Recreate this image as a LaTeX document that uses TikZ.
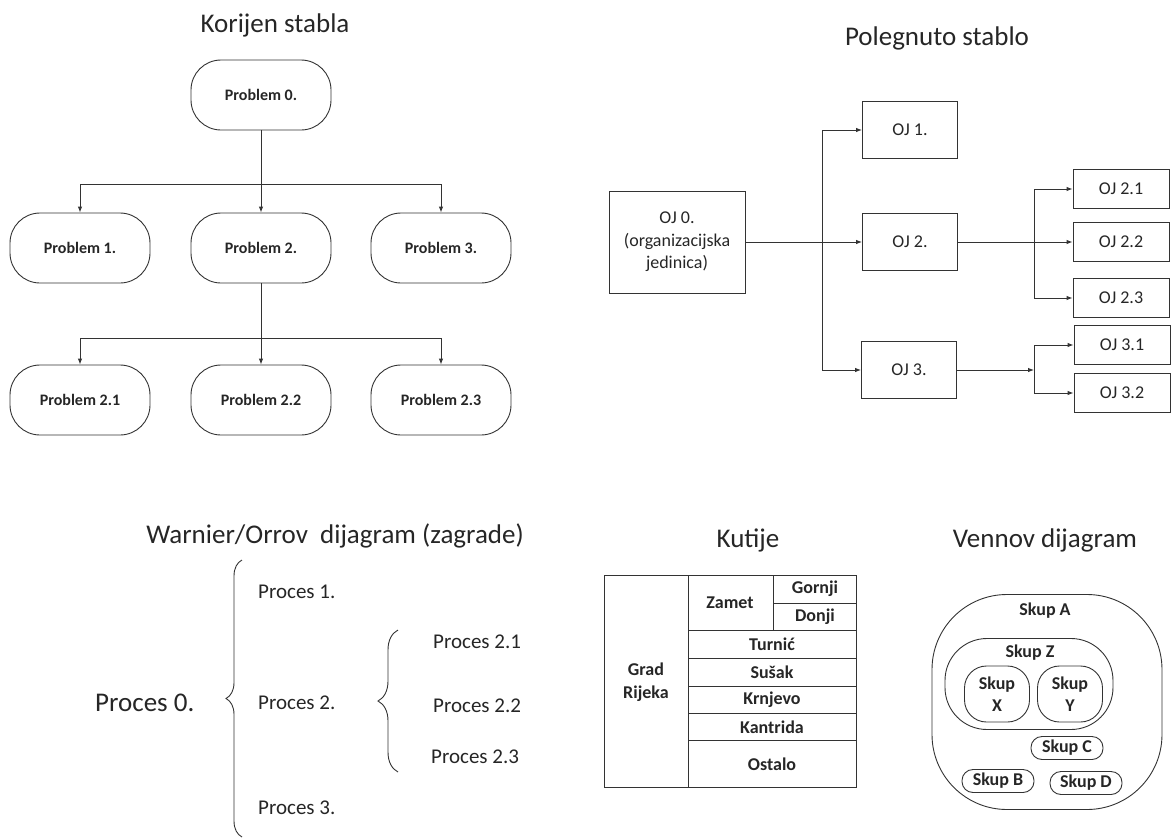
\documentclass[tikz,border=0pt]{standalone}
\usepackage{fontspec}
\setmainfont{Carlito}
\usetikzlibrary{arrows.meta,decorations.pathreplacing}

\newcommand{\naslovfont}{\fontsize{27}{32}\selectfont}
\newcommand{\probfont}{\fontsize{16}{19}\selectfont\bfseries}
\newcommand{\ojfont}{\fontsize{18}{22.5}\selectfont}
\newcommand{\procfont}{\fontsize{21}{25}\selectfont}
\newcommand{\kutfont}{\fontsize{18}{22.5}\selectfont\bfseries}

\tikzset{
  linija/.style={draw=black!80, line width=0.9pt},
  strelica/.style={linija, -{Latex[length=6pt,width=4.5pt]}},
  naslov/.style={font=\naslovfont},
  problem/.style={linija, rounded corners=30pt, minimum width=140pt, minimum height=70pt, font=\probfont},
  oj/.style={linija, minimum width=95pt, minimum height=57pt, font=\ojfont},
  ojmali/.style={linija, minimum width=96pt, minimum height=39pt, font=\ojfont},
  proces/.style={font=\procfont, anchor=west, inner xsep=0pt},
  zagrada/.style={linija, decorate, decoration={brace, amplitude=#1}},
  kutija/.style={font=\kutfont, align=center},
  skup/.style={linija, font=\kutfont, align=center}
}

\begin{document}
\begin{tikzpicture}[x=1pt, y=-1pt, color=black!85]
    \useasboundingbox (0,0) rectangle (1171,839);

    % Korijen stabla
    \node[naslov] (nasKor) at (275,25) {Korijen stabla};
    \node[problem] (p0) at (261,95) {Problem 0.};
    \node[problem] (p1) at (80,248) {Problem 1.};
    \node[problem] (p2) at (261,248) {Problem 2.};
    \node[problem] (p3) at (441,248) {Problem 3.};
    \node[problem] (p21) at (80,400) {Problem 2.1};
    \node[problem] (p22) at (261,400) {Problem 2.2};
    \node[problem] (p23) at (441,400) {Problem 2.3};
    \coordinate (g1) at (261,184);
    \coordinate (g2) at (261,338);
    \draw[linija] (p0.south) -- (g1);
    \draw[strelica] (g1) -- (p2.north);
    \draw[strelica] (g1) -| (p1.north);
    \draw[strelica] (g1) -| (p3.north);
    \draw[linija] (p2.south) -- (g2);
    \draw[strelica] (g2) -- (p22.north);
    \draw[strelica] (g2) -| (p21.north);
    \draw[strelica] (g2) -| (p23.north);

    % Polegnuto stablo
    \node[naslov] (nasPol) at (937,38) {Polegnuto stablo};
    \node[oj, minimum width=136pt, minimum height=102pt, align=center] (oj0) at (677,242) {OJ 0.\\(organizacijska\\jedinica)};
    \node[oj] (oj1) at (910,130) {OJ 1.};
    \node[oj] (oj2) at (910,242) {OJ 2.};
    \node[oj] (oj3) at (909,370) {OJ 3.};
    \node[ojmali] (oj21) at (1121,189) {OJ 2.1};
    \node[ojmali] (oj22) at (1121,242) {OJ 2.2};
    \node[ojmali] (oj23) at (1121,298) {OJ 2.3};
    \node[ojmali] (oj31) at (1122,345) {OJ 3.1};
    \node[ojmali] (oj32) at (1122,393) {OJ 3.2};
    \coordinate (r0) at (822,242);
    \coordinate (r2) at (1034,242);
    \coordinate (r3) at (1034,370);
    \draw[strelica] (oj0.east) -- (oj2.west);
    \draw[strelica] (r0) |- (oj1.west);
    \draw[strelica] (r0) |- (oj3.west);
    \draw[strelica] (oj2.east) -- (oj22.west);
    \draw[strelica] (r2) |- (oj21.west);
    \draw[strelica] (r2) |- (oj23.west);
    \draw[strelica] (oj3.east) -- (r3);
    \draw[strelica] (r3) |- (oj31.west);
    \draw[strelica] (r3) |- (oj32.west);

    % Warnier/Orrov dijagram
    \node[naslov] (nasWar) at (335,536) {Warnier/Orrov\ \ dijagram (zagrade)};
    \node[proces, font=\naslovfont] (pr0) at (95,703) {Proces 0.};
    \node[proces] (pr1) at (258,592) {Proces 1.};
    \node[proces] (pr2) at (258,703) {Proces 2.};
    \node[proces] (pr3) at (258,808) {Proces 3.};
    \node[proces] (pr21) at (433,642) {Proces 2.1};
    \node[proces] (pr22) at (433,706) {Proces 2.2};
    \node[proces] (pr23) at (431,757) {Proces 2.3};
    \draw[zagrada=16pt] (242,837) -- (242,560);
    \draw[zagrada=20pt] (398,772) -- (398,630);

    % Kutije
    \node[naslov] (nasKut) at (748,540) {Kutije};
    \draw[linija] (604,575) rectangle (856,787);
    \draw[linija] (688,575) -- (688,787);
    \draw[linija] (773,575) -- (773,630);
    \draw[linija] (773,603) -- (856,603);
    \foreach \y in {630,658,686,713,740}
        \draw[linija] (688,\y) -- (856,\y);
    \node[kutija] (kGrad) at (646,682) {Grad\\Rijeka};
    \node[kutija] (kZamet) at (730,603) {Zamet};
    \node[kutija] (kGornji) at (815,589) {Gornji};
    \node[kutija] (kDonji) at (815,617) {Donji};
    \node[kutija] (kTurnic) at (772,644) {Turnić};
    \node[kutija] (kSusak) at (772,672) {Sušak};
    \node[kutija] (kKrnjevo) at (772,700) {Krnjevo};
    \node[kutija] (kKantrida) at (772,727) {Kantrida};
    \node[kutija] (kOstalo) at (772,764) {Ostalo};

    % Vennov dijagram
    \node[naslov] (nasVen) at (1045,540) {Vennov dijagram};
    \node[skup, minimum width=230pt, minimum height=215pt, rounded corners=75pt] (skupA) at (1047,702) {};
    \node[kutija] (tA) at (1045,611) {Skup A};
    \node[skup, minimum width=168pt, minimum height=91pt, rounded corners=42pt] (skupZ) at (1029,684) {};
    \node[kutija] (tZ) at (1030,653) {Skup Z};
    \node[skup, minimum width=65pt, minimum height=56pt, rounded corners=22pt] (skupX) at (997,694) {Skup\\X};
    \node[skup, minimum width=65pt, minimum height=56pt, rounded corners=22pt] (skupY) at (1070,694) {Skup\\Y};
    \node[skup, minimum width=72pt, minimum height=23pt, rounded corners=11pt] (skupC) at (1067,748) {Skup C};
    \node[skup, minimum width=72pt, minimum height=23pt, rounded corners=11pt] (skupB) at (998,781) {Skup B};
    \node[skup, minimum width=72pt, minimum height=23pt, rounded corners=11pt] (skupD) at (1086,783) {Skup D};
\end{tikzpicture}
\end{document}
